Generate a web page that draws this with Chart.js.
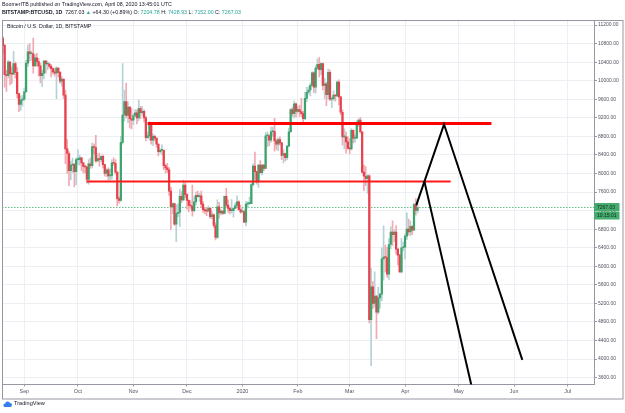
<!DOCTYPE html>
<html>
<head>
<meta charset="utf-8">
<title>BTCUSD 1D</title>
<script src="https://cdn.jsdelivr.net/npm/chart.js@4.4.1/dist/chart.umd.min.js"></script>
<style>
    body { margin: 0; background: #fff; }
    #wrap { position: relative; width: 625px; height: 413px; font-family: "Liberation Sans", Arial, sans-serif; color: #131722; }
    #chart { position: absolute; left: 0; top: 0; }
    .txt { position: absolute; white-space: nowrap; line-height: 1; }
    #pub { left: 2px; top: 2px; font-size: 5.3px; }
    #sym { left: 2px; top: 10px; font-size: 5.3px; }
    #sym b { font-weight: bold; }
    .up { color: #26a69a; }
    #legend { left: 7px; top: 23.5px; font-size: 5.3px; }
    #brand { left: 3px; top: 401px; font-size: 5.6px; display: flex; align-items: center; gap: 2px; }
</style>
</head>
<body>
<div id="wrap">
    <canvas id="chart" width="625" height="413"></canvas>
    <div class="txt" id="pub">BoomerITB published on TradingView.com, April 08, 2020 13:45:01 UTC</div>
    <div class="txt" id="sym"><b>BITSTAMP:BTCUSD, 1D</b>&nbsp; 7267.03 <span class="up">▲</span> +64.30 (+0.89%) O: <span class="up">7204.78</span> H: <span class="up">7428.93</span> L: <span class="up">7152.00</span> C: <span class="up">7267.03</span></div>
    <div class="txt" id="legend">Bitcoin / U.S. Dollar, 1D, BITSTAMP</div>
    <div class="txt" id="brand"><svg width="9" height="6" viewBox="0 0 18 12"><path d="M4 12h10a4 4 0 0 0 0-8 5 5 0 0 0-9.5 1A3.5 3.5 0 0 0 4 12z" fill="#2f80ed"/></svg>TradingView</div>
</div>
<script>
// daily candles, the first one is 2019-08-20
const firstCandle = "2019-08-20";
const opens = [
    10920, 10760, 10130, 10110, 10400, 10150, 10140, 10370, 10180, 9720, 9490, 9580,
    9600, 9760, 10380, 10620, 10580, 10580, 10320, 10490, 10410, 10320, 10110, 10160, 10420, 10360, 10360, 10310, 10260, 10190, 10160, 10270, 10180, 9990, 10030, 9690, 8530, 8430, 8060, 8180, 8200, 8040,
    8300, 8300, 8340, 8230, 8150, 8140, 7870, 8210, 8170, 8580, 8560, 8270, 8320, 8300, 8370, 8190, 8000, 8080, 7950, 7960, 8230, 8220, 8030, 7460, 7420, 8670, 9260, 9550, 9250, 9430, 9180,
    9150, 9250, 9310, 9200, 9400, 9310, 9340, 9200, 8770, 8810, 9040, 8720, 8800, 8760, 8630, 8470, 8500, 8500, 8170, 8120, 8080, 7620, 7280, 7350, 6910, 7140, 7160, 7510, 7430, 7750,
    7550, 7420, 7310, 7300, 7200, 7390, 7530, 7500, 7520, 7340, 7220, 7200, 7190, 7250, 7070, 7110, 6880, 6620, 7280, 7150, 7190, 7140, 7510, 7320, 7250, 7200, 7200, 7250, 7310, 7390, 7220,
    7170, 7180, 6950, 7340, 7350, 7350, 7760, 8160, 8040, 7820, 8180, 8020, 8180, 8110, 8810, 8810, 8720, 8900, 8910, 8700, 8630, 8730, 8660, 8390, 8430, 8340, 8590, 8900, 9380, 9290, 9500,
    9340, 9380, 9330, 9290, 9180, 9620, 9750, 9800, 9900, 10170, 9860, 10270, 10350, 10240, 10370, 9900, 9930, 9700, 10180, 9600, 9610, 9690, 9670, 9970, 9650, 9320, 8790, 8790, 8680,
    8540, 8530, 8930, 8760, 8760, 9070, 9150, 8900, 8030, 7940, 7890, 7950, 4850, 5560, 5200, 5360, 5010, 5320, 5400, 6160, 6200, 6190, 5830, 6470, 6740, 6680, 6740, 6370, 6240, 5880, 6400,
    6410, 6650, 6800, 6740, 6860, 6780, 7330, 7204.78
];
const highs = [
    10950, 10790, 10230, 10440, 10410, 10300, 10630, 10400, 10290, 9730, 9680, 9680,
    9840, 10440, 10770, 10800, 10640, 10920, 10560, 10590, 10480, 10380, 10220, 10440, 10440, 10420, 10380, 10350, 10270, 10270, 10300, 10280, 10200, 10090, 10050, 9800, 8730, 8470, 8270, 8330, 8220, 8340,
    8510, 8390, 8350, 8240, 8180, 8160, 8300, 8340, 8660, 8640, 8820, 8430, 8440, 8380, 8400, 8200, 8100, 8120, 8100, 8300, 8340, 8300, 8040, 7500, 8800, 10370, 9800, 9950, 9550, 9440, 9400,
    9290, 9380, 9370, 9590, 9450, 9440, 9370, 9230, 8890, 9120, 9060, 8850, 8820, 8780, 8650, 8530, 8620, 8510, 8200, 8220, 8130, 7700, 7360, 7360, 7330, 7340, 7660, 7610, 7860, 7800,
    7560, 7430, 7410, 7750, 7500, 7600, 7620, 7570, 7620, 7400, 7270, 7260, 7300, 7270, 7180, 7130, 6940, 7430, 7380, 7220, 7200, 7520, 7680, 7430, 7270, 7440, 7270, 7360, 7520, 7410, 7320,
    7250, 7210, 7400, 7390, 7490, 7790, 8210, 8460, 8050, 8200, 8280, 8190, 8190, 8880, 8900, 8840, 9000, 9000, 9190, 8740, 8770, 8790, 8670, 8510, 8440, 8600, 8980, 9400, 9430, 9560, 9520,
    9440, 9470, 9620, 9340, 9750, 9860, 9870, 9950, 10190, 10190, 10320, 10470, 10500, 10390, 10380, 10050, 9970, 10250, 10230, 9650, 9780, 9700, 9990, 10020, 9670, 9370, 8970, 8900, 8790,
    8750, 8970, 8940, 8840, 9140, 9180, 9210, 8900, 8180, 8150, 7970, 7970, 5960, 5670, 5880, 5370, 5550, 5420, 6400, 6870, 6460, 6410, 6600, 6850, 6980, 6790, 6880, 6380, 6260, 6600, 6520,
    6700, 7150, 7020, 6980, 6880, 7360, 7460, 7428.93
];
const lows = [
    10600, 9860, 9770, 10060, 9910, 9940, 10140, 10060, 9630, 9330, 9360, 9450,
    9570, 9760, 10310, 10420, 10430, 10160, 10320, 10310, 10100, 9950, 9870, 10040, 10160, 10230, 10270, 10080, 10140, 10100, 9610, 10080, 9940, 9880, 9620, 8210, 8000, 7730, 7860, 8020, 7710, 7760,
    8190, 8180, 8060, 8010, 8010, 7790, 7770, 8110, 8120, 8420, 8240, 8260, 8160, 8250, 8120, 7940, 7930, 7860, 7860, 7880, 8180, 7980, 7300, 7360, 7400, 8630, 9130, 9200, 9090, 8980, 8960,
    9050, 9220, 9070, 9140, 9180, 9250, 9110, 8700, 8760, 8720, 8630, 8600, 8700, 8570, 8380, 8440, 8400, 8080, 8010, 8020, 7530, 6790, 7130, 6880, 6530, 7070, 6860, 7370, 7410, 7480,
    7230, 7170, 7250, 7080, 7170, 7320, 7490, 7400, 7270, 7160, 7130, 7090, 7180, 7030, 7020, 6830, 6570, 6600, 7040, 7110, 7120, 7130, 7270, 7160, 7130, 7150, 7060, 7240, 7280, 7210, 7140,
    7160, 6940, 6870, 7260, 7340, 7350, 7730, 7870, 7770, 7700, 8000, 7970, 8060, 8110, 8580, 8600, 8670, 8800, 8480, 8520, 8490, 8610, 8300, 8230, 8270, 8290, 8580, 8880, 9230, 9200, 9220,
    9300, 9230, 9230, 9100, 9160, 9550, 9710, 9670, 9880, 9740, 9730, 10250, 10080, 10130, 9800, 9620, 9460, 9600, 9570, 9420, 9570, 9560, 9650, 9480, 9270, 8610, 8530, 8440, 8530,
    8420, 8510, 8660, 8670, 8750, 9010, 8870, 8000, 7630, 7740, 7570, 4780, 3860, 5090, 5120, 4440, 4970, 5090, 5260, 5700, 5880, 5760, 5720, 6380, 6450, 6530, 6260, 6030, 5870, 5860, 6330,
    6160, 6580, 6670, 6660, 6680, 6780, 7100, 7152
];
const closes = [
    10760, 10130, 10110, 10400, 10150, 10140, 10370, 10180, 9720, 9490, 9580, 9600,
    9760, 10380, 10620, 10580, 10580, 10320, 10490, 10410, 10320, 10110, 10160, 10420, 10360, 10360, 10310, 10260, 10190, 10160, 10270, 10180, 9990, 10030, 9690, 8530, 8430, 8060, 8180, 8200, 8040, 8300,
    8300, 8340, 8230, 8150, 8140, 7870, 8210, 8170, 8580, 8560, 8270, 8320, 8300, 8370, 8190, 8000, 8080, 7950, 7960, 8230, 8220, 8030, 7460, 7420, 8670, 9260, 9550, 9250, 9430, 9180, 9150,
    9250, 9310, 9200, 9400, 9310, 9340, 9200, 8770, 8810, 9040, 8720, 8800, 8760, 8630, 8470, 8500, 8500, 8170, 8120, 8080, 7620, 7280, 7350, 6910, 7140, 7160, 7510, 7430, 7750, 7550,
    7420, 7310, 7300, 7200, 7390, 7530, 7500, 7520, 7340, 7220, 7200, 7190, 7250, 7070, 7110, 6880, 6620, 7280, 7150, 7190, 7140, 7510, 7320, 7250, 7200, 7200, 7250, 7310, 7390, 7220, 7170,
    7180, 6950, 7340, 7350, 7350, 7760, 8160, 8040, 7820, 8180, 8020, 8180, 8110, 8810, 8810, 8720, 8900, 8910, 8700, 8630, 8730, 8660, 8390, 8430, 8340, 8590, 8900, 9380, 9290, 9500, 9340,
    9380, 9330, 9290, 9180, 9620, 9750, 9800, 9900, 10170, 9860, 10270, 10350, 10240, 10370, 9900, 9930, 9700, 10180, 9600, 9610, 9690, 9670, 9970, 9650, 9320, 8790, 8790, 8680, 8540,
    8530, 8930, 8760, 8760, 9070, 9150, 8900, 8030, 7940, 7890, 7950, 4850, 5560, 5200, 5360, 5010, 5320, 5400, 6160, 6200, 6190, 5830, 6470, 6740, 6680, 6740, 6370, 6240, 5880, 6400, 6410,
    6650, 6800, 6740, 6860, 6780, 7330, 7202.73, 7267.03
];

const monthStarts = ["2019-09-01", "2019-10-01", "2019-11-01", "2019-12-01", "2020-01-01", "2020-02-01",
    "2020-03-01", "2020-04-01", "2020-05-01", "2020-06-01", "2020-07-01"];
const monthLabels = ["Sep", "Oct", "Nov", "Dec", "2020", "Feb", "Mar", "Apr", "May", "Jun", "Jul"];
const priceTicks = [3600, 4000, 4400, 4800, 5200, 5600, 6000, 6400, 6800, 7200, 7600,
    8000, 8400, 8800, 9200, 9600, 10000, 10400, 10800, 11200];

// drawings on the chart, x = days after 2019-09-01
const levels = [[69.0, 261.3, 9077], [34.9, 238.5, 7830]];   // from, to, price
const pathA = [[219.3, 7320], [234.8, 9060], [278.6, 3985]];
const pathB = [[223.8, 7830], [250.2, 3420]];
const countdown = "10:15:01";

const origin = Date.UTC(2019, 8, 1);
function dayOf(s) {
    const p = s.split("-").map(Number);
    return (Date.UTC(p[0], p[1] - 1, p[2]) - origin) / 86400000;
}
const first = dayOf(firstCandle);
const monthDays = monthStarts.map(dayOf);
const lastClose = closes[closes.length - 1];
const xMin = -12.48, xMax = 318.7;

const upColor = "#3ca46a", downColor = "#e8404c";
const upWick = "#b5d2d6", downWick = "#f3a9b0";
const isUp = (i) => closes[i] >= opens[i];
const font = '"Liberation Sans", Arial, sans-serif';

const bodies = closes.map((c, i) => ({ x: first + i, y: [opens[i], c] }));
const wicks = closes.map((c, i) => ({ x: first + i, y: [lows[i], highs[i]] }));
const pts = (arr) => arr.map((p) => ({ x: p[0], y: p[1] }));

// frame, last price tag and countdown on the price axis
const framePlugin = {
    id: "frame",
    afterDraw(chart) {
        const { ctx, chartArea: a, scales } = chart;
        ctx.save();
        ctx.strokeStyle = "#9598a1";
        ctx.lineWidth = 1;
        ctx.strokeRect(2.5, 20.5, 620.5, 378.5);
        const py = scales.y.getPixelForValue(lastClose);
        ctx.fillStyle = "#45ab6e";
        ctx.fillRect(a.right, py - 4.5, 25.5, 8.5);
        ctx.fillRect(a.right, py + 4.5, 25.5, 7.5);
        ctx.fillStyle = "#0e2a19";
        ctx.font = "5px " + font;
        ctx.textBaseline = "middle";
        ctx.fillText(lastClose.toFixed(2), a.right + 3, py);
        ctx.fillText(countdown, a.right + 3, py + 8.3);
        ctx.restore();
    }
};

new Chart(document.getElementById("chart"), {
    type: "bar",
    data: {
        datasets: [
            { type: "line", data: pts(pathA), borderColor: "#000", borderWidth: 2, pointRadius: 0, order: 0 },
            { type: "line", data: pts(pathB), borderColor: "#000", borderWidth: 2, pointRadius: 0, order: 0 },
            { type: "line", data: [{ x: levels[0][0], y: levels[0][2] }, { x: levels[0][1], y: levels[0][2] }],
              borderColor: "#ff0000", borderWidth: 3, pointRadius: 0, order: 1 },
            { type: "line", data: [{ x: levels[1][0], y: levels[1][2] }, { x: levels[1][1], y: levels[1][2] }],
              borderColor: "#ff1a1a", borderWidth: 2, pointRadius: 0, order: 1 },
            { data: bodies, grouped: false, barThickness: 1.6, minBarLength: 1, order: 2,
              backgroundColor: (c) => isUp(c.dataIndex) ? upColor : downColor },
            { data: wicks, grouped: false, barThickness: 1, order: 3,
              backgroundColor: (c) => isUp(c.dataIndex) ? upWick : downWick },
            { type: "line", data: [{ x: xMin, y: lastClose }, { x: xMax, y: lastClose }],
              borderColor: "#5fbf85", borderWidth: 1, borderDash: [1.5, 1.5], pointRadius: 0, order: 4 },
        ],
    },
    options: {
        responsive: false,
        animation: false,
        devicePixelRatio: 1,
        layout: { padding: { left: 2, top: 20.5, right: 2, bottom: 14 } },
        plugins: { legend: { display: false }, tooltip: { enabled: false } },
        scales: {
            x: {
                type: "linear", min: xMin, max: xMax, offset: false,
                afterBuildTicks: (s) => { s.ticks = monthDays.map((v) => ({ value: v })); },
                afterFit: (s) => { s.height = 14.5; },
                ticks: {
                    autoSkip: false, maxRotation: 0, padding: 2, color: "#50535e",
                    font: { size: 5.3, family: font },
                    callback: (v, i) => monthLabels[i],
                },
                grid: { color: "#eceff3", tickColor: "#9598a1", tickLength: 2, offset: false },
                border: { color: "#9598a1" },
            },
            y: {
                type: "linear", position: "right", min: 3453, max: 11297,
                afterBuildTicks: (s) => { s.ticks = priceTicks.map((v) => ({ value: v })); },
                afterFit: (s) => { s.width = 29; },
                ticks: {
                    padding: 1, color: "#50535e", font: { size: 5, family: font },
                    callback: (v) => v.toFixed(2),
                },
                grid: { color: "#eceff3", tickColor: "#9598a1", tickLength: 3 },
                border: { color: "#9598a1" },
            },
        },
    },
    plugins: [framePlugin],
});
</script>
</body>
</html>
